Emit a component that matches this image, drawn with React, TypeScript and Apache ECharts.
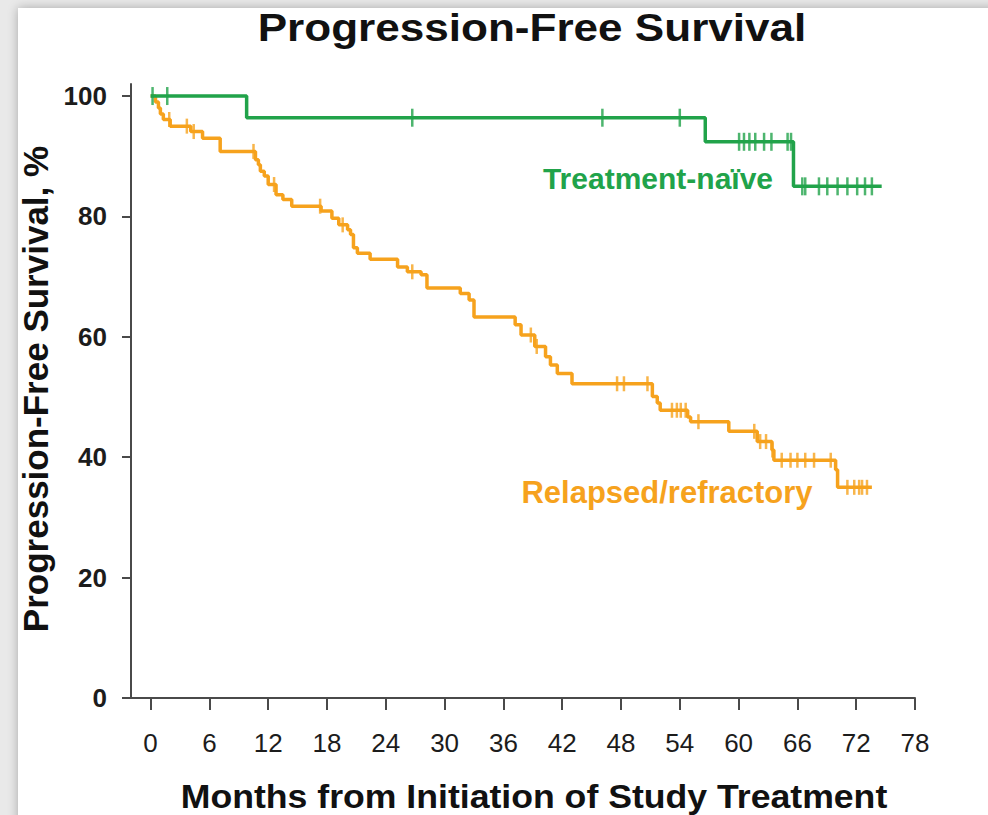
import React, { useEffect, useRef } from "react";
import * as echarts from "echarts";

// Axis ticks
const monthTicks = [0, 6, 12, 18, 24, 30, 36, 42, 48, 54, 60, 66, 72, 78];
const percentTicks = [0, 20, 40, 60, 80, 100];

// Treatment-naïve: event times (months) and survival (%) after each event
const naiveTimes = [0, 9.8, 56.6, 65.6, 74.6];
const naiveSurvival = [100, 96.4, 92.4, 85.0, 85.0];
const naiveCensored = [
  0.2, 1.7, 26.7, 46.1, 54.0, 60.05, 60.55, 61.1, 61.7, 62.6, 63.35, 65.0, 65.35,
  66.5, 66.8, 68.2, 69.05, 70.1, 71.1, 72.1, 72.9, 73.6,
];

// Relapsed/refractory
const relapsedTimes = [
  0, 0.5, 0.8, 1.0, 1.3, 2.0, 4.1, 5.3, 7.1, 10.7, 11.0, 11.2, 11.6, 12.0, 12.8,
  13.5, 14.4, 17.4, 18.5, 19.2, 20.1, 20.4, 20.7, 21.1, 22.4, 25.2, 26.2, 27.6,
  28.2, 31.6, 32.5, 33.0, 37.2, 37.8, 39.2, 40.3, 40.8, 41.5, 43.0, 51.2, 51.7,
  52.0, 54.8, 55.1, 59.0, 61.9, 63.4, 63.6, 69.9, 70.1, 73.6,
];
const relapsedSurvival = [
  100, 99.0, 98.0, 97.0, 96.1, 95.0, 94.1, 93.0, 90.8, 89.4, 88.6, 87.5, 86.7,
  85.3, 83.6, 82.8, 81.7, 80.9, 79.7, 78.6, 77.8, 77.0, 74.8, 73.9, 72.9, 71.6,
  70.8, 70.3, 68.1, 67.2, 66.1, 63.3, 62.0, 60.3, 58.4, 56.7, 55.3, 53.9, 52.2,
  50.1, 49.0, 47.8, 46.7, 45.9, 44.3, 42.6, 41.2, 39.5, 37.9, 35.0, 35.0,
];
const relapsedCensored = [
  1.9, 3.7, 4.4, 10.5, 12.6, 17.3, 19.6, 26.7, 38.8, 39.4, 47.6, 48.3, 50.7, 53.2,
  53.7, 54.1, 54.6, 55.9, 61.6, 62.2, 62.8, 63.45, 64.4, 65.3, 66.0, 66.8, 67.7,
  69.4, 71.1, 71.8, 72.3, 72.6, 73.1,
];

const GREEN = "#21a34a";
const ORANGE = "#f6a21d";
const AXIS = "#4a4a4a";
const FONT = "'Liberation Sans', Arial, Helvetica, sans-serif";

// Survival level of a step curve at time t
function survivalAt(times: number[], surv: number[], t: number): number {
  let s = surv[0];
  for (let i = 0; i < times.length; i++) {
    if (times[i] <= t) s = surv[i];
  }
  return s;
}

function label(
  text: string,
  x: number,
  y: number,
  size: number,
  color: string,
  extra: Record<string, unknown> = {}
) {
  return {
    type: "text",
    x,
    y,
    z: 10,
    ...extra,
    style: {
      text,
      fontSize: size,
      fontWeight: "bold",
      fontFamily: FONT,
      fill: color,
      align: "center",
      verticalAlign: "middle",
      textAlign: "center",
      textVerticalAlign: "middle",
    },
  };
}

export default function App() {
  const ref = useRef<HTMLDivElement>(null);

  useEffect(() => {
    if (!ref.current) return;
    const chart = echarts.init(ref.current, null, { renderer: "svg" });

    const lineStyle = { color: AXIS, width: 2 };

    chart.setOption({
      animation: false,
      grid: {
        left: 131,
        right: 73,
        top: 84,
        bottom: 117,
        containLabel: false,
        outerBoundsMode: "none",
      },
      xAxis: {
        type: "value",
        min: -2,
        max: 78,
        axisLine: { show: true, onZero: false, lineStyle },
        axisTick: { show: true, customValues: monthTicks, length: 12, lineStyle },
        axisLabel: {
          customValues: monthTicks,
          fontSize: 26,
          fontFamily: FONT,
          color: "#1c1c1c",
          margin: 32,
        },
        splitLine: { show: false },
      },
      yAxis: {
        type: "value",
        min: 0,
        max: 102,
        axisLine: { show: true, onZero: false, lineStyle },
        axisTick: { show: true, customValues: percentTicks, length: 9, lineStyle },
        axisLabel: {
          customValues: percentTicks,
          fontSize: 26,
          fontWeight: "bold",
          fontFamily: FONT,
          color: "#1c1c1c",
          margin: 24,
        },
        splitLine: { show: false },
      },
      series: [
        {
          name: "Relapsed/refractory",
          type: "line",
          step: "end",
          data: relapsedTimes.map((t, i) => [t, relapsedSurvival[i]]),
          showSymbol: false,
          symbol: "none",
          lineStyle: { color: ORANGE, width: 3.5 },
          itemStyle: { color: ORANGE },
          z: 3,
        },
        {
          name: "Treatment-naïve",
          type: "line",
          step: "end",
          data: naiveTimes.map((t, i) => [t, naiveSurvival[i]]),
          showSymbol: false,
          symbol: "none",
          lineStyle: { color: GREEN, width: 3.5 },
          itemStyle: { color: GREEN },
          z: 4,
        },
        {
          type: "scatter",
          data: relapsedCensored.map((t) => [
            t,
            survivalAt(relapsedTimes, relapsedSurvival, t),
          ]),
          symbol: "rect",
          symbolSize: [2.5, 15],
          itemStyle: { color: ORANGE },
          z: 5,
        },
        {
          type: "scatter",
          data: naiveCensored.map((t) => [t, survivalAt(naiveTimes, naiveSurvival, t)]),
          symbol: "rect",
          symbolSize: [2.5, 18],
          itemStyle: { color: GREEN },
          z: 6,
        },
      ],
      graphic: [
        label("Progression-Free Survival", 532, 28, 38, "#111", { scaleX: 1.16 }),
        label("Months from Initiation of Study Treatment", 534, 796, 33, "#111", {
          scaleX: 1.08,
        }),
        label("Progression-Free Survival, %", 35, 389, 35, "#111", {
          rotation: Math.PI / 2,
        }),
        label("Treatment-naïve", 658, 178, 30, GREEN),
        label("Relapsed/refractory", 667, 492, 31, ORANGE),
      ],
    });

    return () => chart.dispose();
  }, []);

  return (
    <div
      style={{
        position: "fixed",
        left: 0,
        top: 0,
        width: 988,
        height: 815,
        background: "#e9e9e9",
        overflow: "hidden",
      }}
    >
      <div
        style={{
          position: "absolute",
          left: 18,
          top: 8,
          right: -20,
          bottom: -20,
          background: "#ffffff",
          boxShadow: "0 0 10px rgba(0,0,0,0.28)",
        }}
      />
      <div
        ref={ref}
        style={{ position: "absolute", left: 0, top: 0, width: 988, height: 815 }}
      />
    </div>
  );
}
